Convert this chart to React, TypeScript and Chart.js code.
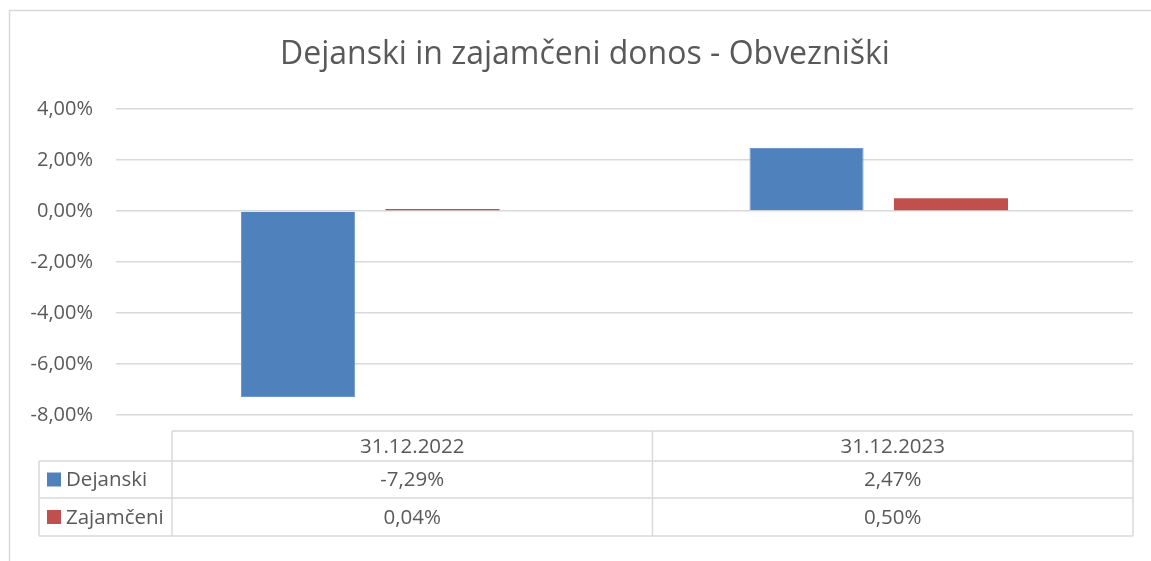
import React, { useEffect, useRef } from "react";
import { Chart, registerables } from "chart.js";

Chart.register(...registerables);

const categories = ["31.12.2022", "31.12.2023"];
const seriesNames = ["Dejanski", "Zajamčeni"];
const dejanski = [-7.29, 2.47];
const zajamceni = [0.04, 0.5];
const seriesColors = ["#4F81BD", "#C0504D"];
const titleText = "Dejanski in zajamčeni donos - Obvezniški";
const yMin = -8;
const yMax = 4;
const yStep = 2;

const FONT = "'Open Sans', 'DejaVu Sans', sans-serif";
const TEXT = "#595959";
const GRID = "#d9d9d9";

const fmt = (v: number) => v.toFixed(2).replace(".", ",") + "%";

const overlayPlugin = {
  id: "overlay",
  afterDraw(chart: any) {
    const ctx = chart.ctx as CanvasRenderingContext2D;
    const area = chart.chartArea;
    ctx.save();
    // outer border
    ctx.strokeStyle = GRID;
    ctx.lineWidth = 1.5;
    ctx.strokeRect(9.5, 10.5, 1200, 600);

    // title
    ctx.fillStyle = TEXT;
    ctx.font = `32px ${FONT}`;
    ctx.textAlign = "center";
    ctx.textBaseline = "middle";
    ctx.fillText(titleText, 585, 55);

    // data table
    const legendLeft = 39;
    const colStart = 172;
    const right = area.right;
    const yHeadTop = 431;
    const rowLines = [461, 498, 536];
    const colW = (right - colStart) / categories.length;

    ctx.strokeStyle = GRID;
    ctx.lineWidth = 1.5;
    ctx.beginPath();
    ctx.moveTo(colStart, yHeadTop);
    ctx.lineTo(right, yHeadTop);
    for (const y of rowLines) {
      ctx.moveTo(legendLeft, y);
      ctx.lineTo(right, y);
    }
    ctx.moveTo(legendLeft, rowLines[0]);
    ctx.lineTo(legendLeft, rowLines[2]);
    for (let i = 0; i <= categories.length; i++) {
      const x = colStart + colW * i;
      ctx.moveTo(x, yHeadTop);
      ctx.lineTo(x, rowLines[2]);
    }
    ctx.stroke();

    ctx.font = `20.5px ${FONT}`;
    ctx.fillStyle = TEXT;
    ctx.textAlign = "center";
    ctx.textBaseline = "middle";
    const headMid = (yHeadTop + rowLines[0]) / 2;
    categories.forEach((c, i) => {
      ctx.fillText(c, colStart + colW * (i + 0.5), headMid + 1);
    });
    const series = [dejanski, zajamceni];
    series.forEach((vals, r) => {
      const top = rowLines[r];
      const bottom = rowLines[r + 1];
      const mid = (top + bottom) / 2;
      ctx.fillStyle = seriesColors[r];
      ctx.fillRect(47, mid - 7, 14, 14);
      ctx.fillStyle = TEXT;
      ctx.textAlign = "left";
      ctx.fillText(seriesNames[r], 66, mid + 1);
      ctx.textAlign = "center";
      vals.forEach((v, i) => {
        ctx.fillText(fmt(v), colStart + colW * (i + 0.5), mid + 1);
      });
    });
    ctx.restore();
  },
};

export default function App() {
  const ref = useRef<HTMLCanvasElement>(null);
  useEffect(() => {
    if (!ref.current) return;
    const chart = new Chart(ref.current, {
      type: "bar",
      data: {
        labels: categories,
        datasets: [
          {
            label: seriesNames[0],
            data: dejanski,
            backgroundColor: seriesColors[0],
            borderColor: "#6f97cc",
            borderWidth: 1,
          },
          {
            label: seriesNames[1],
            data: zajamceni,
            backgroundColor: seriesColors[1],
            borderColor: "#d07370",
            borderWidth: 0,
            minBarLength: 2,
          },
        ],
      },
      options: {
        responsive: false,
        animation: false,
        layout: { padding: { top: 109, right: 18, bottom: 146, left: 0 } },
        datasets: {
          bar: { categoryPercentage: 0.568, barPercentage: 0.79 },
        },
        plugins: {
          legend: { display: false },
          title: { display: false },
          tooltip: { enabled: false },
        },
        scales: {
          x: { display: false },
          y: {
            min: yMin,
            max: yMax,
            afterFit(scale: any) {
              scale.width = 116;
            },
            ticks: {
              stepSize: yStep,
              padding: 23,
              color: TEXT,
              font: { family: FONT, size: 20 },
              callback: (v: any) => fmt(Number(v)),
            },
            grid: { color: GRID, lineWidth: 1.5, drawTicks: false },
            border: { display: false },
          },
        },
      },
      plugins: [overlayPlugin],
    });
    return () => chart.destroy();
  }, []);
  return (
    <div style={{ position: "absolute", left: 0, top: 0, width: 1151, height: 561, background: "#fff" }}>
      <canvas ref={ref} width={1151} height={561} style={{ display: "block" }} />
    </div>
  );
}
